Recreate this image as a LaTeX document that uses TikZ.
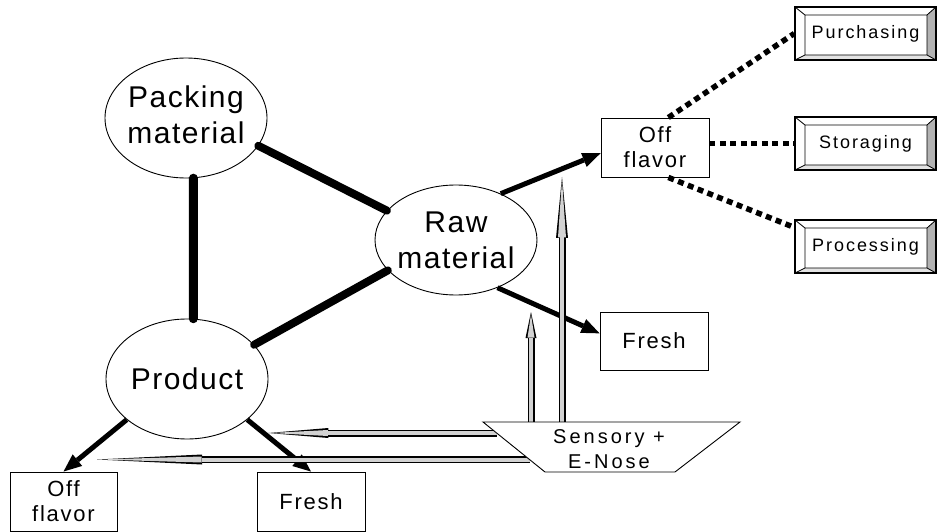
\documentclass[tikz,border=0pt]{standalone}
\usepackage{fontspec}
\setmainfont{Liberation Sans}
\newfontfamily\ellfont[LetterSpace=5]{Liberation Sans}
\newfontfamily\boxfont[LetterSpace=8]{Liberation Sans}
\newfontfamily\sensfont[LetterSpace=15]{Liberation Sans}
\newfontfamily\bevfont[LetterSpace=11]{Liberation Sans}
\usetikzlibrary{shapes.geometric,arrows.meta,calc}

\tikzset{
  blob/.style={ellipse, draw, line width=0.9pt, minimum width=162pt,
    minimum height=120pt, inner sep=0pt},
  blobtext/.style={font=\ellfont\fontsize{30}{36}\selectfont, align=center},
  plainbox/.style={draw, line width=0.9pt, minimum width=108pt,
    minimum height=59pt, inner sep=0pt, align=center,
    font=\boxfont\fontsize{22}{25}\selectfont},
  bevelbox/.style={draw, line width=1.4pt, minimum width=141pt,
    minimum height=53pt, inner sep=0pt,
    font=\bevfont\fontsize{18}{20}\selectfont,
    path picture={
      \path (path picture bounding box.north west) coordinate (bNW)
            (path picture bounding box.north east) coordinate (bNE)
            (path picture bounding box.south east) coordinate (bSE)
            (path picture bounding box.south west) coordinate (bSW);
      \path (bNW) ++(10,8) coordinate (iNW)
            (bNE) ++(-9,8) coordinate (iNE)
            (bSE) ++(-9,-5) coordinate (iSE)
            (bSW) ++(10,-5) coordinate (iSW);
      \fill[gray!60] (bNE) -- (iNE) -- (iSE) -- (bSE) -- cycle;
      \fill[gray!22] (bSW) -- (iSW) -- (iSE) -- (bSE) -- cycle;
      \draw[line width=0.8pt] (iNW) rectangle (iSE)
            (bNW) -- (iNW) (bNE) -- (iNE) (bSE) -- (iSE) (bSW) -- (iSW);
    }},
  bond/.style={line width=9pt, line cap=round},
  flow/.style={line width=5pt,
    -{Triangle[length=18pt,width=15pt,line width=0pt]}},
  dotlink/.style={line width=5.5pt, dash pattern=on 6pt off 4.5pt},
  hollow/.style n args={4}{line width=7pt,
    -{Triangle[length=#1,width=#2,line width=0pt]},
    postaction={draw=gray!35, line width=4pt, shorten >=2.5pt,
      -{Triangle[length=#3,width=#4,line width=0pt]}}}
}

\begin{document}
\begin{tikzpicture}[x=1pt,y=-1pt]
\useasboundingbox (0,0) rectangle (938,532);

% the three sources of flavour
\node[blob, label={[blobtext, yshift=3pt]center:Packing\\material}] (pack) at (186,118) {};
\node[blob, minimum height=110pt, label={[blobtext]center:Raw\\material}] (raw) at (456,240) {};
\node[blob, label={[blobtext]center:Product}] (prod) at (187,379) {};

% outcome boxes
\node[plainbox] (offA) at (655,147.5) {Off\\flavor};
\node[plainbox, minimum height=58pt] (freshA) at (654,341) {Fresh};
\node[plainbox, minimum width=107pt] (offB) at (63.5,501.5) {Off\\flavor};
\node[plainbox] (freshB) at (311,501.5) {Fresh};

% causes
\node[bevelbox] (purch) at (865.5,33.5) {Purchasing};
\node[bevelbox] (stor) at (865.5,143.5) {Storaging};
\node[bevelbox] (proc) at (865.5,246.5) {Processing};

% links between sources
\draw[bond] (pack.-83) -- (prod.84);
\draw[bond, line width=8pt] (pack.-21) -- (raw.157);
\draw[bond, line width=8pt] (prod.27) -- (raw.-156);

% sources to outcomes
\draw[flow] (raw.46) -- (offA.186);
\draw[flow] (raw.-49) -- (freshA.172);
\draw[flow] (prod.214) -- (offB.north);
\draw[flow] (prod.-34) -- (freshB.north);

% off flavor causes
\draw[dotlink] (offA.66) -- (purch.west);
\draw[dotlink] (offA.east |- stor.west) -- (stor.west);
\draw[dotlink] (offA.-66) -- (proc.165);

% sensory + e-nose unit
\coordinate (tl) at (483,422);
\coordinate (tr) at (740,422);
\coordinate (br) at (675,472);
\coordinate (bl) at (545,472);

\coordinate (v1e) at (531,312);
\coordinate (v2e) at (562,177);
\coordinate (h1s) at ($(tl)!0.22!(bl)$);
\coordinate (h2s) at ($(tl)!0.75!(bl)$);
\coordinate (h2x) at (97,0);

\draw[hollow={26pt}{11pt}{23pt}{7pt}] (v1e |- tl) -- (v1e);
\draw[hollow={61pt}{12pt}{58pt}{8pt}] (v2e |- tl) -- (v2e);
\draw[hollow={60pt}{10pt}{57pt}{6pt}] (h1s) -- (h1s -| prod.east);
\draw[hollow={105pt}{10pt}{102pt}{6pt}] (h2s) -- (h2s -| h2x);

\draw[line width=0.9pt, fill=white] (tl) -- (tr) -- (br) -- (bl) -- cycle;
\node[align=center, font=\sensfont\fontsize{20}{25}\selectfont] (sens) at (609,449) {Sensory +\\E-Nose};
\end{tikzpicture}
\end{document}
